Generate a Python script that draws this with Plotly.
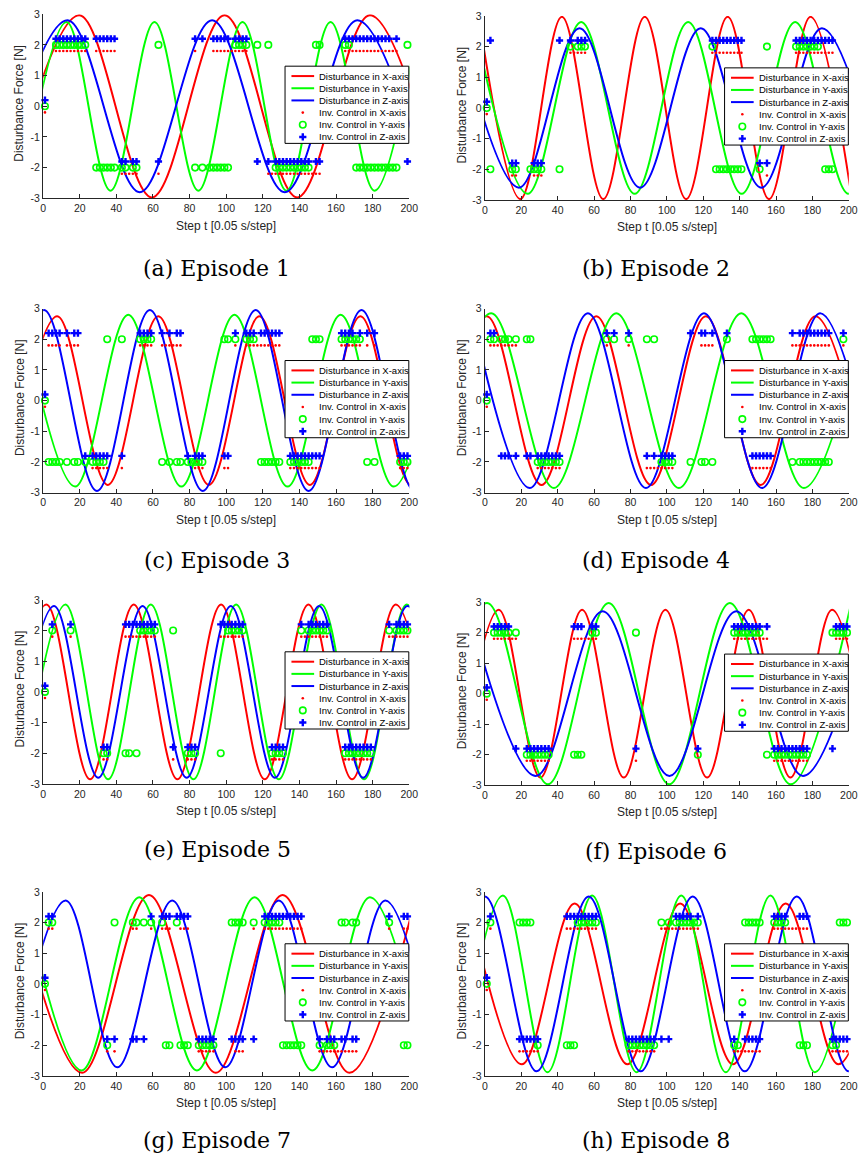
import plotly.graph_objects as go

W, H = 867, 1169

# ---------------- data ----------------
# Disturbance curves: (step, force [N]) at the extrema of each sine-shaped curve
E1_X = [(-20, -2.97), (19.7, 2.97), (59.4, -2.97), (99.1, 2.97), (138.8, -2.97), (178.5, 2.97), (218.2, -2.97)]
E1_Y = [(-11.2, -2.75), (12.8, 2.75), (36.8, -2.75), (60.8, 2.75), (84.8, -2.75), (108.9, 2.75), (132.9, -2.75), (157, 2.75), (181, -2.75), (205, 2.75)]
E1_Z = [(-26.3, -2.8), (13.3, 2.8), (52.8, -2.8), (92.3, 2.8), (132, -2.8), (171.6, 2.8), (211.2, -2.8)]

E2_X = [(-3.3, 2.97), (19.5, -2.97), (42.3, 2.97), (65.05, -2.97), (87.85, 2.97), (110.6, -2.97), (133.4, 2.97), (156.15, -2.97), (178.95, 2.97), (201.7, -2.97)]
E2_Y = [(-5.9, 2.8), (23.5, -2.8), (52.9, 2.8), (82.3, -2.8), (111.7, 2.8), (141.1, -2.8), (170.5, 2.8), (199.9, -2.8), (229.3, 2.8)]
E2_Z = [(-14.6, 2.6), (18.7, -2.6), (52, 2.6), (85.3, -2.6), (118.6, 2.6), (151.9, -2.6), (185.2, 2.6), (218.5, -2.6)]

E3_X = [(-19.9, -2.75), (7.7, 2.75), (35.3, -2.75), (62.9, 2.75), (90.5, -2.75), (118.1, 2.75), (145.7, -2.75), (173.3, 2.75), (200.9, -2.75), (228.5, 2.75)]
E3_Y = [(-11.5, 2.8), (17.5, -2.8), (46.5, 2.8), (75.5, -2.8), (104.5, 2.8), (133.5, -2.8), (162.5, 2.8), (191.5, -2.8), (220.5, 2.8)]
E3_Z = [(-28.4, -2.95), (0.5, 2.95), (29.4, -2.95), (58.3, 2.95), (87.2, -2.95), (116.1, 2.95), (145, -2.95), (173.9, 2.95), (202.8, -2.95), (231.7, 2.95)]

E4_X = [(-29.1, -2.75), (1, 2.75), (31.1, -2.75), (61.2, 2.75), (91.3, -2.75), (121.4, 2.75), (151.5, -2.75), (181.6, 2.75), (211.7, -2.75)]
E4_Y = [(-30.85, -2.85), (3.5, 2.85), (37.9, -2.85), (72.2, 2.85), (106.6, -2.85), (140.9, 2.85), (175.3, -2.85), (209.6, 2.85)]
E4_Z = [(-7.2, 2.85), (24.7, -2.85), (56.6, 2.85), (88.5, -2.85), (120.4, 2.85), (152.3, -2.85), (184.2, 2.85), (216.1, -2.85)]

E5_X = [(-22.05, -2.85), (1.8, 2.85), (25.65, -2.85), (49.5, 2.85), (73.35, -2.85), (97.2, 2.85), (121.05, -2.85), (144.9, 2.85), (168.75, -2.85), (192.6, 2.85), (216.45, -2.85)]
E5_Y = [(-11.1, -2.85), (12.2, 2.85), (35.5, -2.85), (58.8, 2.85), (82.1, -2.85), (105.4, 2.85), (128.7, -2.85), (152, 2.85), (175.3, -2.85), (198.6, 2.85), (221.9, -2.85)]
E5_Z = [(-18.1, -2.8), (6, 2.8), (30.1, -2.8), (54.3, 2.8), (78.4, -2.8), (102.5, 2.8), (126.6, -2.8), (150.7, 2.8), (174.8, -2.8), (198.9, 2.8), (223, -2.8)]

E6_X = [(-15.3, -2.75), (7.6, 2.75), (30.5, -2.75), (53.4, 2.75), (76.3, -2.75), (99.2, 2.75), (122.1, -2.75), (145, 2.75), (167.9, -2.75), (190.8, 2.75), (213.7, -2.75)]
E6_Y = [(-32.2, -2.97), (1.2, 2.97), (34.6, -2.97), (68, 2.97), (101.3, -2.97), (134.6, 2.97), (168, -2.97), (201.3, 2.97)]
E6_Z = [(-8.7, 2.7), (28, -2.7), (64.7, 2.7), (101.4, -2.7), (138.1, 2.7), (174.8, -2.7), (211.5, 2.7)]

E7_X = [(-15.2, 2.9), (21.3, -2.9), (57.8, 2.9), (94.3, -2.9), (130.8, 2.9), (167.3, -2.9), (203.8, 2.9)]
E7_Y = [(-10.5, 2.82), (21, -2.82), (52.5, 2.82), (84, -2.82), (115.5, 2.82), (147, -2.82), (178.5, 2.82), (210, -2.82)]
E7_Z = [(-16.8, -2.72), (12.3, 2.72), (40.5, -2.72), (70.5, 2.72), (99.5, -2.72), (128.7, 2.72), (157.8, -2.72), (186.9, 2.72), (216, -2.72)]

E8_X = [(-8.7, 2.62), (20.3, -2.62), (49.3, 2.62), (78.3, -2.62), (107.3, 2.62), (136.3, -2.62), (165.3, 2.62), (194.3, -2.62), (223.3, 2.62)]
E8_Y = [(-14.6, -2.88), (9.9, 2.88), (34.4, -2.88), (58.9, 2.88), (83.4, -2.88), (107.9, 2.88), (132.4, -2.88), (156.9, 2.88), (181.4, -2.88), (205.9, 2.88)]
E8_Z = [(-28.6, -2.85), (0, 2.85), (28.4, -2.85), (57, 2.85), (85.6, -2.85), (114.2, 2.85), (142.8, -2.85), (171.4, 2.85), (200, -2.85), (228.6, 2.85)]

# Inverse control: runs (first, last) of odd steps where the control is +2 (P) or -2 (N)
E1_XP = [(7, 23), (29, 39), (83, 83), (93, 111), (165, 193)]
E1_XN = [(43, 51), (63, 63), (123, 151)]
E1_YP = [(7, 23), (63, 63), (105, 111), (117, 117), (123, 123), (149, 151), (165, 167), (199, 199)]
E1_YN = [(29, 39), (43, 45), (49, 51), (83, 83), (87, 87), (91, 101), (127, 145), (171, 193)]
E1_ZP = [(7, 23), (29, 39), (83, 83), (87, 87), (93, 101), (105, 111), (165, 189), (193, 193)]
E1_ZN = [(43, 45), (49, 51), (63, 63), (117, 117), (123, 123), (127, 145), (149, 151), (199, 199)]

E2_XP = [(47, 55), (125, 141), (171, 191)]
E2_XN = [(15, 17), (27, 31), (155, 155)]
E2_YP = [(47, 47), (51, 55), (125, 125), (155, 155), (171, 183)]
E2_YN = [(3, 3), (15, 17), (25, 31), (41, 41), (127, 141), (151, 151), (187, 191)]
E2_ZP = [(3, 3), (41, 41), (47, 47), (51, 55), (125, 141), (171, 191)]
E2_ZN = [(15, 17), (27, 31), (151, 151), (155, 155)]

E3_XP = [(3, 9), (13, 19), (53, 59), (65, 75), (105, 105), (111, 129), (163, 173), (177, 177), (181, 181)]
E3_XN = [(27, 35), (43, 43), (83, 87), (99, 101), (135, 151), (195, 199)]
E3_YP = [(35, 35), (43, 43), (53, 59), (99, 101), (105, 105), (111, 115), (147, 151), (163, 173)]
E3_YN = [(3, 9), (13, 13), (17, 19), (23, 23), (27, 33), (65, 65), (69, 69), (73, 75), (79, 87), (119, 129), (135, 145), (177, 177), (181, 181), (195, 199)]
E3_ZP = [(3, 9), (13, 13), (17, 19), (53, 59), (65, 65), (69, 69), (73, 75), (105, 105), (111, 115), (119, 129), (163, 169), (173, 173), (177, 177), (181, 181)]
E3_ZN = [(23, 23), (27, 35), (43, 43), (79, 79), (83, 87), (99, 101), (135, 151), (195, 199)]

E4_XP = [(3, 17), (67, 67), (79, 79), (119, 125), (169, 189), (197, 197)]
E4_XN = [(29, 41), (89, 103), (147, 157)]
E4_YP = [(3, 5), (9, 13), (17, 17), (23, 25), (67, 67), (71, 71), (79, 79), (89, 89), (93, 93), (133, 133), (147, 157), (197, 197)]
E4_YN = [(29, 41), (97, 103), (113, 113), (119, 121), (125, 125), (169, 169), (173, 189)]
E4_ZP = [(3, 5), (67, 67), (71, 71), (79, 79), (113, 113), (119, 121), (125, 125), (133, 133), (169, 169), (173, 189), (197, 197)]
E4_ZN = [(9, 13), (17, 17), (23, 25), (29, 41), (89, 89), (93, 93), (97, 103), (147, 157)]

E5_XP = [(5, 5), (15, 15), (45, 61), (97, 109), (141, 155), (189, 199)]
E5_XN = [(33, 35), (71, 71), (79, 83), (125, 131), (165, 179)]
E5_YP = [(5, 5), (15, 15), (53, 61), (71, 71), (101, 109), (141, 141), (145, 155), (189, 189), (193, 199)]
E5_YN = [(33, 35), (45, 47), (51, 51), (79, 83), (97, 97), (125, 131), (165, 179)]
E5_ZP = [(5, 5), (15, 15), (45, 61), (97, 109), (141, 141), (145, 155), (189, 189), (193, 199)]
E5_ZN = [(33, 35), (71, 71), (79, 83), (125, 131), (165, 179)]

E6_XP = [(5, 17), (49, 61), (137, 155), (193, 199)]
E6_XN = [(23, 35), (83, 83), (159, 177)]
E6_YP = [(5, 13), (17, 17), (59, 61), (83, 83), (137, 151), (191, 199)]
E6_YN = [(23, 35), (49, 53), (117, 117), (155, 155), (159, 177)]
E6_ZP = [(5, 13), (49, 53), (59, 61), (137, 151), (155, 155), (193, 199)]
E6_ZN = [(17, 17), (23, 35), (83, 83), (117, 117), (159, 177), (191, 191)]

E7_XP = [(3, 5), (49, 51), (59, 59), (65, 69), (75, 79), (115, 115), (121, 141), (189, 189), (197, 199)]
E7_XN = [(35, 35), (39, 39), (85, 93), (105, 109), (151, 171)]
E7_YP = [(3, 5), (39, 39), (49, 51), (55, 55), (59, 59), (65, 65), (73, 73), (103, 109), (115, 115), (121, 129), (163, 165), (169, 171), (189, 189)]
E7_YN = [(35, 35), (67, 69), (75, 79), (85, 93), (131, 141), (151, 151), (155, 159), (197, 199)]
E7_ZP = [(3, 5), (59, 59), (65, 69), (73, 79), (121, 141), (189, 189), (197, 199)]
E7_ZN = [(35, 35), (39, 39), (49, 51), (55, 55), (85, 93), (103, 109), (115, 115), (151, 151), (155, 159), (163, 165), (169, 171)]

E8_XP = [(3, 3), (45, 61), (97, 117), (159, 177)]
E8_XN = [(19, 29), (79, 93), (137, 151), (191, 199)]
E8_YP = [(3, 3), (19, 25), (51, 61), (97, 97), (101, 101), (105, 117), (143, 151), (159, 165), (195, 199)]
E8_YN = [(29, 29), (45, 49), (79, 93), (137, 139), (173, 177), (191, 193)]
E8_ZP = [(3, 3), (45, 61), (105, 113), (117, 117), (159, 165), (173, 177)]
E8_ZN = [(19, 29), (79, 93), (97, 97), (101, 101), (137, 137), (143, 151), (191, 199)]

CAPTIONS = ["(a) Episode 1", "(b) Episode 2", "(c) Episode 3", "(d) Episode 4",
            "(e) Episode 5", "(f) Episode 6", "(g) Episode 7", "(h) Episode 8"]
X_TICKS = [0, 20, 40, 60, 80, 100, 120, 140, 160, 180, 200]
Y_TICKS = [-3, -2, -1, 0, 1, 2, 3]
Y_TICK_TEXT = ["-3", "-2", "-1", "0", "1", "2", "3"]
LEGEND_LABELS = ["Disturbance in X-axis", "Disturbance in Y-axis", "Disturbance in Z-axis",
                 "Inv. Control in X-axis", "Inv. Control in Y-axis", "Inv. Control in Z-axis"]
START_STEP = 1
CONTROL_LEVEL = 2.0
CONTROL_SHIFT = [-0.2, 0.0, 0.2]   # X, Y, Z control drawn slightly shifted

EPISODES = [
    (E1_X, E1_Y, E1_Z, E1_XP, E1_XN, E1_YP, E1_YN, E1_ZP, E1_ZN),
    (E2_X, E2_Y, E2_Z, E2_XP, E2_XN, E2_YP, E2_YN, E2_ZP, E2_ZN),
    (E3_X, E3_Y, E3_Z, E3_XP, E3_XN, E3_YP, E3_YN, E3_ZP, E3_ZN),
    (E4_X, E4_Y, E4_Z, E4_XP, E4_XN, E4_YP, E4_YN, E4_ZP, E4_ZN),
    (E5_X, E5_Y, E5_Z, E5_XP, E5_XN, E5_YP, E5_YN, E5_ZP, E5_ZN),
    (E6_X, E6_Y, E6_Z, E6_XP, E6_XN, E6_YP, E6_YN, E6_ZP, E6_ZN),
    (E7_X, E7_Y, E7_Z, E7_XP, E7_XN, E7_YP, E7_YN, E7_ZP, E7_ZN),
    (E8_X, E8_Y, E8_Z, E8_XP, E8_XN, E8_YP, E8_YN, E8_ZP, E8_ZN),
]

# ---------------- layout (pixels) ----------------
COL_X = [(40.7, 412.0), (488.7, 857.7)]
PANEL_Y = [(8.3, 194.3), (10, 196), (305.7, 491.7), (305.7, 491.7),
           (600, 786), (602.3, 787.3), (895, 1081), (895, 1081)]
CAPTION_POS = [(216.7, 265), (662.5, 265), (217, 560), (662.5, 560),
               (217, 852), (662.5, 854), (217, 1146), (662.5, 1146)]
YTITLE_X = [16.7, 465]

LINE_COLORS = ["#ff0000", "#00ff00", "#0000ff"]
AX_COLOR = "#262626"
SANS = "Liberation Sans, Arial, sans-serif"


def expand(runs):
    out = []
    for a, b in runs:
        out.extend(range(a, b + 1, 2))
    return out


def marker_style(k):
    if k == 0:
        return dict(symbol="circle", size=2.6, color=LINE_COLORS[0], line=dict(width=0))
    if k == 1:
        return dict(symbol="circle-open", size=6.5, color=LINE_COLORS[1], line=dict(width=1.6, color=LINE_COLORS[1]))
    return dict(symbol="cross", size=6, color=LINE_COLORS[2], line=dict(width=0))


fig = go.Figure()
layout = dict(width=W, height=H, margin=dict(l=0, r=0, t=0, b=0), autosize=False,
              paper_bgcolor="white", plot_bgcolor="rgba(0,0,0,0)", showlegend=False)
annotations = []

for i, ep in enumerate(EPISODES):
    sfx = "" if i == 0 else str(i + 1)
    xa, ya = "x" + sfx, "y" + sfx
    col = i % 2
    x0, x1 = COL_X[col]
    y0, y1 = PANEL_Y[i]
    curves = ep[:3]
    for k, c in enumerate(curves):
        fig.add_trace(go.Scatter(
            x=[p[0] for p in c], y=[p[1] for p in c], mode="lines",
            line=dict(color=LINE_COLORS[k], width=2, shape="spline", smoothing=1),
            xaxis=xa, yaxis=ya, hoverinfo="skip", cliponaxis=True))
    for k in range(3):
        pos = expand(ep[3 + 2 * k])
        neg = expand(ep[4 + 2 * k])
        sh = CONTROL_SHIFT[k]
        xs = [START_STEP] + pos + neg
        ys = [0 + sh] + [CONTROL_LEVEL + sh] * len(pos) + [-CONTROL_LEVEL + sh] * len(neg)
        fig.add_trace(go.Scatter(x=xs, y=ys, mode="markers", marker=marker_style(k),
                                 xaxis=xa, yaxis=ya, hoverinfo="skip", cliponaxis=False))
    axis_common = dict(showgrid=False, zeroline=False, showline=True, linecolor=AX_COLOR,
                       linewidth=1.3, ticks="inside", ticklen=4, tickwidth=1, tickcolor=AX_COLOR,
                       tickfont=dict(family=SANS, size=10.5, color=AX_COLOR), mirror=False,
                       fixedrange=True)
    layout["xaxis" + sfx] = dict(domain=[x0 / W, x1 / W], range=[0, 200], anchor=ya,
                                 tickmode="array", tickvals=X_TICKS, **axis_common)
    layout["yaxis" + sfx] = dict(domain=[1 - y1 / H, 1 - y0 / H], range=[-3, 3], anchor=xa,
                                 tickmode="array", tickvals=Y_TICKS, ticktext=Y_TICK_TEXT,
                                 **axis_common)

    # axis titles and caption
    annotations.append(dict(x=(x0 + x1) / 2, y=y1 + 27.5, xref="x9", yref="y9",
                            text="Step t [0.05 s/step]", showarrow=False,
                            font=dict(family=SANS, size=12, color=AX_COLOR),
                            xanchor="center", yanchor="middle"))
    annotations.append(dict(x=YTITLE_X[col], y=(y0 + y1) / 2 - 3, xref="x9", yref="y9",
                            text="Disturbance Force [N]", showarrow=False, textangle=-90,
                            font=dict(family=SANS, size=12, color=AX_COLOR),
                            xanchor="center", yanchor="middle"))
    cx, cy = CAPTION_POS[i]
    annotations.append(dict(x=cx, y=cy, xref="x9", yref="y9", text=CAPTIONS[i], showarrow=False,
                            font=dict(family="DejaVu Serif, serif", size=22, color="black"),
                            xanchor="center", yanchor="middle"))

# ---------------- hand-drawn legends on a full-page pixel overlay ----------------
LEG_W, LEG_H = 125.5, 78
ROW0, ROW_GAP = 10, 12.3
for i in range(8):
    col = i % 2
    R = COL_X[col][1] - 0.5
    L = R - LEG_W
    T = PANEL_Y[i][0] + 52.5
    B = T + LEG_H
    fig.add_trace(go.Scatter(x=[L, R, R, L, L], y=[T, T, B, B, T], mode="lines", fill="toself",
                             fillcolor="white", line=dict(color="black", width=1),
                             xaxis="x9", yaxis="y9", hoverinfo="skip"))
    for k in range(3):
        ry = T + ROW0 + ROW_GAP * k
        fig.add_trace(go.Scatter(x=[L + 6.5, L + 29.5], y=[ry, ry], mode="lines",
                                 line=dict(color=LINE_COLORS[k], width=2),
                                 xaxis="x9", yaxis="y9", hoverinfo="skip"))
    for k in range(3):
        ry = T + ROW0 + ROW_GAP * (k + 3)
        fig.add_trace(go.Scatter(x=[L + 18], y=[ry], mode="markers", marker=marker_style(k),
                                 xaxis="x9", yaxis="y9", hoverinfo="skip"))
    for j, lab in enumerate(LEGEND_LABELS):
        ry = T + ROW0 + ROW_GAP * j
        annotations.append(dict(x=L + 32.5, y=ry, xref="x9", yref="y9", text=lab, showarrow=False,
                                font=dict(family=SANS, size=9.5, color="black"),
                                xanchor="left", yanchor="middle"))

layout["xaxis9"] = dict(domain=[0, 1], range=[0, W], anchor="y9", visible=False, fixedrange=True)
layout["yaxis9"] = dict(domain=[0, 1], range=[H, 0], anchor="x9", visible=False, fixedrange=True)
layout["annotations"] = annotations
fig.update_layout(**layout)
fig.write_html("out.html")
